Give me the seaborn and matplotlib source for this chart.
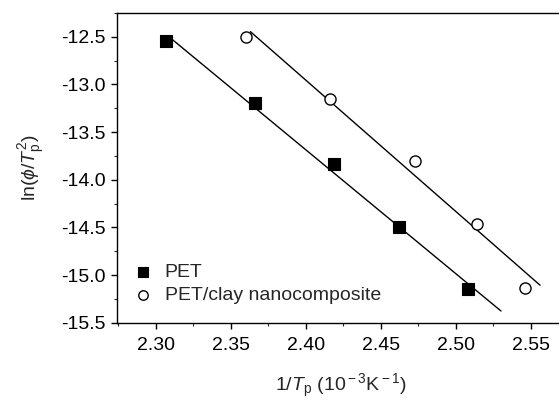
import numpy as np
import pandas as pd
import matplotlib
matplotlib.use('Agg')
import matplotlib.pyplot as plt
import seaborn as sns
from matplotlib.ticker import MultipleLocator

# data
pet_x = [2.307, 2.366, 2.419, 2.462, 2.508]
pet_y = [-12.55, -13.20, -13.84, -14.50, -15.15]
clay_x = [2.360, 2.416, 2.473, 2.514, 2.546]
clay_y = [-12.50, -13.15, -13.80, -14.46, -15.13]
# x-range covered by the fitted lines
pet_fit_range = [2.308, 2.530]
clay_fit_range = [2.363, 2.556]

sns.set_style('ticks')
plt.rcParams['font.family'] = ['Liberation Sans', 'DejaVu Sans']
plt.rcParams['mathtext.fontset'] = 'custom'
plt.rcParams['mathtext.rm'] = 'Liberation Sans'
plt.rcParams['mathtext.it'] = 'Liberation Sans:italic'

df = pd.concat([
    pd.DataFrame({'x': pet_x, 'y': pet_y, 'sample': 'PET'}),
    pd.DataFrame({'x': clay_x, 'y': clay_y, 'sample': 'PET/clay nanocomposite'}),
], ignore_index=True)

fig = plt.figure(figsize=(5.59, 4.01), dpi=100)
ax = fig.add_axes([0.209, 0.195, 0.80, 0.773])

# linear fits
for xs, ys, rng in [(pet_x, pet_y, pet_fit_range), (clay_x, clay_y, clay_fit_range)]:
    k, b = np.polyfit(xs, ys, 1)
    xx = np.array(rng)
    ax.plot(xx, k * xx + b, color='black', lw=1.0, zorder=1)

sns.scatterplot(data=df[df['sample'] == 'PET'], x='x', y='y', marker='s', s=64,
                color='black', edgecolor='black', linewidth=0.8, label='PET', ax=ax, zorder=3)
sns.scatterplot(data=df[df['sample'] != 'PET'], x='x', y='y', marker='o', s=64,
                facecolor='white', edgecolor='black', linewidth=1.0,
                label='PET/clay nanocomposite', ax=ax, zorder=3)

ax.set_xlim(2.274, 2.572)
ax.set_ylim(-15.5, -12.25)
ax.xaxis.set_major_locator(MultipleLocator(0.05))
ax.xaxis.set_minor_locator(MultipleLocator(0.025))
ax.yaxis.set_major_locator(MultipleLocator(0.5))
ax.yaxis.set_minor_locator(MultipleLocator(0.25))
ax.xaxis.set_major_formatter(matplotlib.ticker.FormatStrFormatter('%.2f'))
ax.yaxis.set_major_formatter(matplotlib.ticker.FormatStrFormatter('%.1f'))
ax.tick_params(which='major', direction='out', length=4, width=1, labelsize=14, colors='black')
ax.tick_params(axis='y', which='major', pad=4)
ax.tick_params(axis='x', which='major', pad=6)
ax.tick_params(which='minor', direction='out', length=2.5, width=0.8)
for side in ['left', 'bottom', 'top']:
    ax.spines[side].set_color('black')
    ax.spines[side].set_linewidth(1.0)
ax.spines['right'].set_visible(False)

ax.set_xlabel(r'1/$\it{T}_{\rm p}$ (10$^{\rm -3}$K$^{\rm -1}$)', fontsize=14, labelpad=13)
ax.set_ylabel(r'ln($\it{\phi}$/$\it{T}_{\rm p}^{\rm 2}$)', fontsize=14, labelpad=10)

ax.legend(loc='lower left', bbox_to_anchor=(-0.002, 0.035), frameon=False, fontsize=14,
          handletextpad=0.1, labelspacing=0.3, borderaxespad=0, markerscale=0.85)

fig.savefig('out.png', dpi=100)
